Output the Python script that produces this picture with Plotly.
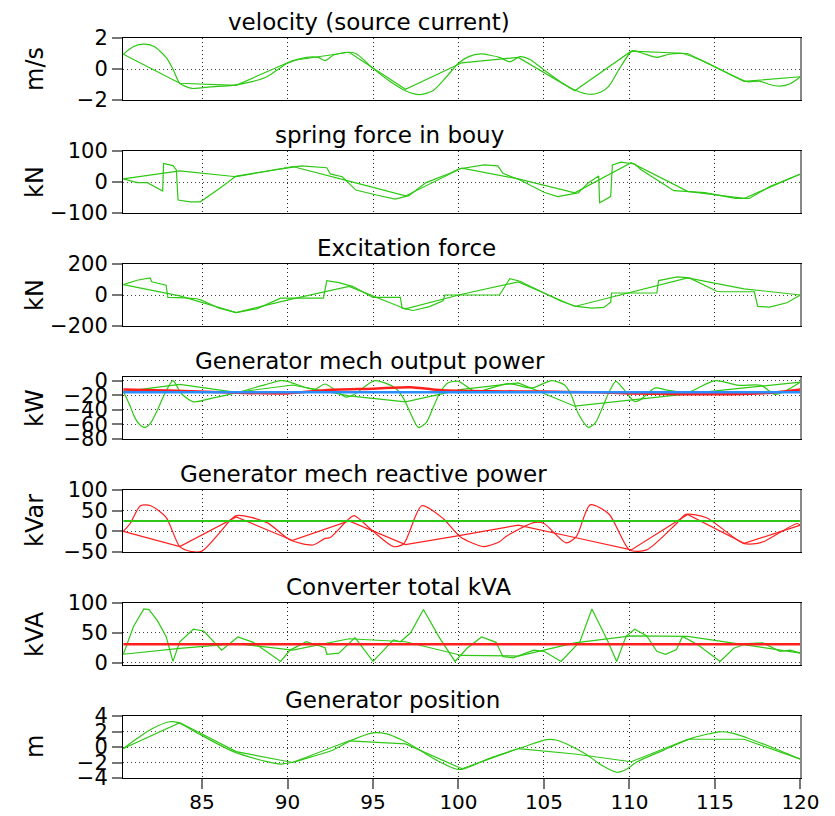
import plotly.graph_objects as go

# ---------------- data ----------------
t_coarse = [80.4, 83.7, 87.0, 90.3, 93.6, 96.9, 100.2, 103.5, 106.8, 110.1, 113.4, 116.7, 120.0]
t_const = [80.4, 120.0]

# velocity (m/s)
vel_t = [80.4, 81.0, 81.6, 82.2, 82.9, 83.3, 83.7, 84.4, 85.5, 86.8, 87.8, 88.8, 90.0, 91.1, 91.8, 92.2,
         92.7, 93.5, 94.0, 95.0, 96.0, 96.9, 97.7, 98.5, 99.3, 100.0, 100.6, 101.3, 102.4, 103.0, 103.6,
         104.2, 105.0, 106.0, 106.9, 107.7, 108.3, 108.8, 109.4, 110.0, 110.2, 110.8, 111.6, 112.3, 113.1,
         114.0, 115.0, 116.0, 116.9, 117.6, 118.2, 118.8, 119.4, 120.0]
vel_v = [0.95, 1.45, 1.6, 1.45, 0.75, 0.0, -0.92, -1.25, -1.15, -1.05, -0.85, -0.5, 0.37, 0.75, 0.75, 0.54,
         0.9, 1.08, 1.0, 0.04, -0.8, -1.4, -1.65, -1.4, -0.5, 0.37, 0.8, 0.97, 0.75, 0.47, 0.8,
         0.6, -0.06, -0.85, -1.4, -1.63, -1.5, -1.1, 0.0, 1.0, 1.18, 1.0, 0.75, 0.95, 1.0,
         0.65, 0.15, -0.4, -0.82, -0.78, -1.0, -1.1, -0.95, -0.5]
vel_coarse = [0.95, -0.92, -1.05, 0.55, 1.08, -1.31, 0.4, 0.75, -1.4, 1.15, 1.0, -0.8, -0.5]

# spring force in bouy (kN)
spr_t = [80.4, 81.2, 81.8, 82.7, 82.75, 83.3, 83.5, 83.6, 84.3, 84.9, 86.0, 87.0, 88.0, 90.0, 90.8, 92.3,
         92.5, 93.2, 94.0, 95.2, 96.3, 97.1, 98.1, 99.5, 100.0, 101.5, 102.3, 102.6, 103.6, 105.0, 105.8,
         107.0, 107.6, 108.2, 108.25, 108.9, 109.0, 109.5, 110.3, 110.7, 112.6, 114.4, 116.2, 117.0,
         118.2, 120.0]
spr_v = [10, -2, -2, -29, 60, 53, 39, -58, -64, -64, -22, 19, 28, 46, 52, 46,
         26, 17, -26, -42, -55, -44, -2, 28, 42, 55, 52, 28, 6.5, -33, -47,
         -35, -2, 19, -67, -47, 55, 64, 58, 39, -28, -34, -53, -53,
         -15, 26]
spr_coarse = [10, 36, 17, 50, 3, -45, 45, 10, -35, 62, -30, -53, 26]

# excitation force (kN)
exc_t = [80.4, 81.2, 81.96, 82.06, 82.9, 83.0, 84.0, 84.7, 85.0, 86.0, 87.0, 88.2, 89.6, 92.1, 92.3, 93.0,
         93.8, 95.0, 96.6, 96.7, 97.35, 98.3, 99.1, 99.2, 102.4, 103.0, 103.6, 105.06, 106.0, 106.9,
         107.8, 108.5, 108.9, 108.95, 111.6, 111.7, 112.8, 113.5, 115.1, 115.4, 117.3, 117.5, 118.2,
         119.2, 120.0]
exc_v = [67, 95, 110, 85, 63, -15, -18, -24, -35, -85, -113, -89, -20, -20, 93, 80,
         56, -15, -15, -85, -100, -75, -37, 0, 0, 106, 89, 13, -40, -74,
         -85, -80, -46, 13, 13, 93, 117, 110, 24, 21, 21, -74, -78,
         -50, 0]
exc_coarse = [67, -6, -113, -25, 55, -90, 5, 85, -74, 20, 110, 40, 0]

# generator mech output power (kW)
pow_t = [80.4, 80.8, 81.1, 81.5, 81.7, 82.0, 82.4, 82.8, 83.3, 83.8, 84.5, 85.6, 87.1, 88.7, 89.6, 90.0,
         91.0, 91.6, 92.2, 93.4, 93.9, 95.1, 96.3, 96.8, 97.2, 97.65, 98.1, 98.5, 98.9, 99.4, 100.0,
         101.0, 102.9, 104.3, 105.45, 106.2, 106.6, 107.0, 107.6, 108.0, 108.4, 108.8, 109.2, 109.6,
         110.3, 110.65, 111.5, 112.2, 113.4, 115.0, 116.4, 117.7, 118.5, 119.3, 120.0]
pow_v = [-14.7, -35, -52, -63, -64, -58, -40, -19, 0, -18, -29, -24, -16, -5.5, 0, -1,
         -9, -12, -4.6, -22.5, -19, 0, -10, -25, -45, -64, -58, -38, -17, -3, -1,
         -15, -4, -10, 0, -6, -20, -45, -64, -58, -38, -16, -1, -10,
         -28.6, -26, -10, -13, -16, 0, -6.5, -6.5, -19, -12, -2]
pow_coarse = [-15, -5, -16, -6, -21, -29, -12, -3, -35, -26, -18, -10, -2]
pow_red_t = [80.4, 83.5, 87.0, 90.0, 92.2, 95.0, 97.2, 98.5, 100.0, 105.0, 108.0, 110.0, 113.0, 116.0,
             118.0, 120.0]
pow_red_v = [-12, -14, -16.5, -17.5, -13, -11, -9, -12, -14, -15, -16, -17.5, -18.5, -18.5, -17, -12]
pow_mean = [-16, -16]

# generator mech reactive power (kVar)
rea_t = [80.4, 80.8, 81.4, 82.0, 82.9, 83.7, 84.4, 85.0, 86.0, 87.0, 88.8, 90.15, 91.5, 92.2, 92.5, 93.5,
         93.9, 95.0, 96.2, 96.8, 97.85, 99.1, 100.1, 101.45, 102.4, 102.8, 104.4, 105.0, 106.3, 106.9,
         107.7, 108.8, 110.0, 111.0, 112.75, 113.3, 114.5, 116.65, 117.5, 118.0, 119.8, 120.0]
rea_v = [0, 19, 62, 62, 34, -37, -49, -48, -5, 38, 21, -21, -33, -17, -15, 27,
         38, 0, -37, -30, 62, 31, -13, -37, -25, -12, 21, 19, -28, -12,
         64, 42, -45, -45, 19, 41, 33, -29, -29, -22, 19, 15]
rea_coarse = [0, -37, 35, -22, 25, -32, -9, 15, -15, -45, 41, -29, 15]
rea_mean = [25, 25]

# converter total kVA
kva_t = [80.4, 81.0, 81.6, 81.9, 82.4, 82.9, 83.3, 83.7, 84.5, 85.1, 86.15, 87.1, 88.0, 89.6, 90.15, 91.1,
         92.2, 92.3, 93.0, 93.95, 95.0, 96.2, 96.6, 97.2, 97.95, 98.9, 99.8, 100.5, 101.35, 102.2, 102.6,
         103.2, 104.4, 105.0, 106.0, 107.1, 107.8, 108.7, 109.25, 109.8, 110.3, 111.0, 111.6, 112.1,
         112.75, 113.1, 114.0, 115.3, 116.1, 116.85, 117.8, 118.8, 119.4, 120.0]
kva_v = [14, 61, 90, 89, 70, 44, 2, 35, 56, 53, 21, 43, 34, 2, 21, 35,
         25, 14, 16, 42, 2, 38, 35, 50, 89, 41, 2, 24, 43, 34, 10,
         8, 21, 19, 2, 35, 90, 38, 2, 44, 56, 45, 19, 14,
         22, 44, 30, 2, 24, 32, 33, 19, 21, 16]
kva_coarse = [14, 24, 32, 21, 40, 35, 12, 11, 33, 45, 44, 30, 16]
kva_mean = [31, 31]

# generator position (m)
pos_t = [80.4, 81.2, 82.0, 83.1, 83.6, 84.9, 86.8, 88.8, 89.6, 90.3, 91.5, 92.7, 93.7, 95.0, 95.8, 96.7,
         97.7, 98.8, 99.9, 100.3, 102.0, 103.8, 105.15, 105.7, 106.6, 107.5, 108.4, 109.25, 109.8,
         110.4, 112.0, 113.7, 115.3, 116.0, 116.85, 118.5, 120.0]
pos_v = [-0.2, 1.1, 2.26, 3.26, 3.15, 1.6, -0.57, -1.88, -2.2, -1.97, -1.2, -0.35, 0.82, 1.83, 1.7, 0.9,
         -0.35, -1.8, -2.87, -2.83, -1.3, 0.0, 0.95, 0.9, 0.1, -1.0, -2.4, -3.26, -2.9,
         -1.96, -0.4, 1.17, 1.96, 1.8, 1.2, -0.2, -1.57]
pos_coarse = [-0.2, 3.15, -0.6, -2.0, 0.8, 0.4, -2.8, -0.2, -0.9, -1.9, 1.0, 1.0, -1.57]

titles = ["velocity (source current)", "spring force in bouy", "Excitation force",
          "Generator mech output power", "Generator mech reactive power",
          "Converter total kVA", "Generator position"]
title_centers = [369, 389, 406, 370, 363, 398, 392]
ylabels = ["m/s", "kN", "kN", "kW", "kVar", "kVA", "m"]
yranges = [[-2, 2], [-100, 100], [-200, 200], [-80, 5], [-50, 100], [-4, 100], [-4, 4]]
ytickvals = [[-2, 0, 2], [-100, 0, 100], [-200, 0, 200], [-80, -60, -40, -20, 0],
             [-50, 0, 50, 100], [0, 50, 100], [-4, -2, 0, 2, 4]]
xtickvals = [85, 90, 95, 100, 105, 110, 115, 120]
xrange_ = [80.38, 120.03]

# ---------------- styles ----------------
GREEN = "#2ec814"
RED = "#ff1f1f"
BLUE = "#2a8cff"
FONT = "DejaVu Sans"

OFF = 8  # page body offset in the browser
W, H = 835 - OFF, 816 - OFF
ML, MR, MT, MB = 123 - OFF, 34, 38 - OFF, 38
PW = W - ML - MR
PH = H - MT - MB
PANEL_H, STEP = 62, 113

fig = go.Figure()


def add(i, x, y, color, width=1.2, shape="linear"):
    n = "" if i == 0 else str(i + 1)
    fig.add_trace(go.Scatter(x=x, y=y, mode="lines", xaxis="x" + n, yaxis="y" + n,
                             line=dict(color=color, width=width, shape=shape,
                                       smoothing=0.7 if shape == "spline" else None),
                             showlegend=False, hoverinfo="skip"))


add(0, t_coarse, vel_coarse, GREEN)
add(0, vel_t, vel_v, GREEN, shape="spline")
add(1, t_coarse, spr_coarse, GREEN)
add(1, spr_t, spr_v, GREEN)
add(2, t_coarse, exc_coarse, GREEN)
add(2, exc_t, exc_v, GREEN)
add(3, t_coarse, pow_coarse, GREEN)
add(3, pow_t, pow_v, GREEN, shape="spline")
add(3, pow_red_t, pow_red_v, RED, width=2.5, shape="spline")
add(3, t_const, pow_mean, BLUE, width=2.5)
add(4, t_coarse, rea_coarse, RED)
add(4, rea_t, rea_v, RED, shape="spline")
add(4, t_const, rea_mean, GREEN, width=2)
add(5, t_coarse, kva_coarse, GREEN)
add(5, kva_t, kva_v, GREEN)
add(5, t_const, kva_mean, RED, width=2.5)
add(6, t_coarse, pos_coarse, GREEN)
add(6, pos_t, pos_v, GREEN, shape="spline")

layout = dict(width=W, height=H, margin=dict(l=ML, r=MR, t=MT, b=MB, autoexpand=False),
              paper_bgcolor="white", plot_bgcolor="white", showlegend=False,
              font=dict(family=FONT, color="black"))
annotations = []
shapes = []
for i in range(7):
    n = "" if i == 0 else str(i + 1)
    top = 1 - (STEP * i) / PH
    bot = 1 - (STEP * i + PANEL_H) / PH
    last = i == 6
    layout["xaxis" + n] = dict(
        domain=[0, 1], anchor="y" + n, range=xrange_, tickvals=xtickvals,
        showticklabels=last, ticks="outside" if last else "", ticklen=10, tickwidth=1.5,
        tickcolor="#777", tickfont=dict(size=20, family=FONT), ticklabelstandoff=-4,
        showgrid=True, gridcolor="#222", griddash="1px,3px", gridwidth=1,
        zeroline=False, showline=True, mirror=True, linecolor="black", linewidth=1)
    layout["yaxis" + n] = dict(
        domain=[bot, top], anchor="x" + n, range=yranges[i], tickvals=ytickvals[i],
        ticks="outside", ticklen=10, tickwidth=1.5, tickcolor="#777",
        tickfont=dict(size=21, family=FONT),
        showgrid=True, gridcolor="#444", griddash="1px,3px", gridwidth=1,
        zeroline=False, showline=True, mirror=True, linecolor="black", linewidth=1)
    annotations.append(dict(
        text=titles[i], xref="paper", yref="paper",
        x=(title_centers[i] - OFF - ML) / PW, y=top, xanchor="center", yanchor="middle",
        yshift=16, showarrow=False, font=dict(size=23, family=FONT, color="black")))
    annotations.append(dict(
        text=ylabels[i], xref="paper", yref="paper",
        x=(35 - OFF - ML) / PW, y=(top + bot) / 2, xanchor="center", yanchor="middle",
        textangle=-90, showarrow=False, font=dict(size=24, family=FONT, color="black")))
    shapes.append(dict(type="line", xref="paper", yref="paper", x0=1, x1=1, y0=bot, y1=top,
                       line=dict(color="#888", width=2), layer="above"))

layout["annotations"] = annotations
layout["shapes"] = shapes
fig.update_layout(**layout)
fig.write_html("out.html")
